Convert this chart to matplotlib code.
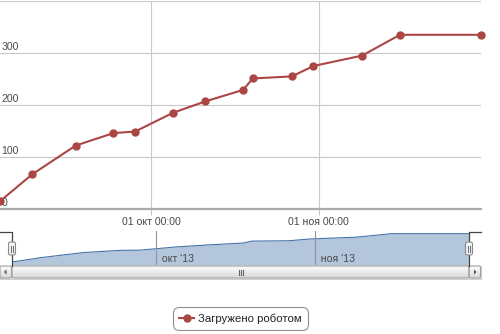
import matplotlib
matplotlib.use("Agg")
import matplotlib.pyplot as plt
import matplotlib.dates as mdates
from matplotlib.patches import FancyBboxPatch, Rectangle, Polygon
import numpy as np
import pandas as pd

# data
dates = pd.to_datetime([
    "2013-09-03 00:00", "2013-09-09 00:00", "2013-09-17 00:00", "2013-09-24 00:00",
    "2013-09-28 00:00", "2013-10-05 00:00", "2013-10-11 00:00", "2013-10-18 00:00",
    "2013-10-19 18:00", "2013-10-27 00:00", "2013-10-31 00:00", "2013-11-09 00:00",
    "2013-11-16 00:00", "2013-12-01 00:00",
])
loaded = [15, 67, 122, 146, 149, 185, 207, 229, 251, 255, 275, 295, 335, 335]
series_name = "Загружено роботом"
y_ticks = [0, 100, 200, 300, 400]
x_ticks = pd.to_datetime(["2013-10-01", "2013-11-01"])
x_tick_labels = ["01 окт 00:00", "01 ноя 00:00"]
nav_tick_labels = ["окт '13", "ноя '13"]

plt.rcParams["font.family"] = ["Liberation Sans", "DejaVu Sans"]

W, H = 500, 334
fig = plt.figure(figsize=(W / 100, H / 100), dpi=100)


def box(x0, y0, x1, y1):
    # pixel box (top-left origin) -> figure fraction rect
    return [x0 / W, 1 - y1 / H, (x1 - x0) / W, (y1 - y0) / H]


red = "#AA4643"
blue = "#4572A7"
grid = "#C8C8C8"
label_col = "#4A4A4A"

# ---- main chart ----
ax = fig.add_axes(box(0, 1, 481, 209))
x = mdates.date2num(dates)
ax.plot(x, loaded, color=red, lw=1.5, marker="o", ms=5, zorder=3, clip_on=False)
ax.set_xlim(x[0], x[-1])
ax.set_ylim(0, 400)
for v in y_ticks[1:]:
    ax.axhline(v, color=grid, lw=0.8, zorder=1)
for t in mdates.date2num(x_ticks):
    ax.axvline(t, color=grid, lw=0.8, zorder=1)
for s in ["left", "right", "top"]:
    ax.spines[s].set_visible(False)
ax.spines["bottom"].set_color("#ABABAB")
ax.spines["bottom"].set_linewidth(1.6)
ax.set_yticks([])
ax.set_xticks(mdates.date2num(x_ticks))
ax.set_xticklabels(x_tick_labels, fontsize=7.6, color=label_col)
ax.tick_params(axis="x", length=4, width=0.8, color=grid, pad=1.5)
ytr = ax.get_yaxis_transform()
for v in y_ticks[:-1]:
    ax.text(0.003, v + 12, str(v), transform=ytr, fontsize=7.6, color=label_col,
            ha="left", va="center", zorder=2)

# ---- navigator ----
nav = fig.add_axes(box(12, 231, 469, 265))
nav.fill_between(x, loaded, -19, color=blue, alpha=0.4, lw=0)
nav.plot(x, loaded, color=blue, lw=0.8)
nav.set_xlim(x[0], x[-1])
nav.set_ylim(-19, 365)
nav.axis("off")
ntr = nav.get_xaxis_transform()
for t, lab in zip(mdates.date2num(x_ticks), nav_tick_labels):
    nav.axvline(t, color="#8C96A4", lw=0.8)
    nav.text(t, 0.17, "  " + lab, transform=ntr, fontsize=7.6, color=label_col,
             ha="left", va="center")

# ---- overlay for navigator outline, handles, scrollbar (pixel coords) ----
ov = fig.add_axes([0, 0, 1, 1], zorder=5)
ov.axis("off")
ov.patch.set_alpha(0)

top_c = np.array([0.99, 0.99, 0.99])
bot_c = np.array([0.85, 0.85, 0.85])
t_ = np.linspace(0, 1, 24).reshape(-1, 1, 1)
grad = top_c * (1 - t_) + bot_c * t_

# scrollbar track
ov.add_patch(Rectangle((0, 265.5), 481, 13, facecolor="#F4F4F4", edgecolor="#CCCCCC", lw=0.8))
# scrollbar thumb with gradient
ov.imshow(grad, extent=(12, 469, 278, 266), aspect="auto", zorder=2)
ov.add_patch(FancyBboxPatch((12, 266), 457, 12, boxstyle="round,pad=0,rounding_size=2",
                            facecolor="none", edgecolor="#A0A0A0", lw=0.8, zorder=3))
for dx in (-2, 0, 2):
    ov.plot([240.5 + dx, 240.5 + dx], [269.5, 274.5], color="#666666", lw=0.8, zorder=4)
# scrollbar buttons
for bx, pts in ((0, [(6.5, 269.5), (6.5, 274.5), (4, 272)]),
                (469, [(474, 269.5), (474, 274.5), (476.5, 272)])):
    ov.imshow(grad, extent=(bx, bx + 11.5, 278, 266), aspect="auto", zorder=2)
    ov.add_patch(FancyBboxPatch((bx, 266), 11.5, 12, boxstyle="round,pad=0,rounding_size=1.5",
                                facecolor="none", edgecolor="#A0A0A0", lw=0.8, zorder=3))
    ov.add_patch(Polygon(pts, closed=True, facecolor="#555555", edgecolor="none", zorder=4))

# navigator outline
ov.plot([0, 12, 12], [231.5, 231.5, 266], color="#444444", lw=0.9, zorder=5)
ov.plot([469, 469, 481], [266, 231.5, 231.5], color="#444444", lw=0.9, zorder=5)

# handles
for hx in (12, 469):
    ov.add_patch(FancyBboxPatch((hx - 3.5, 242), 7, 13, boxstyle="round,pad=0,rounding_size=2",
                                facecolor="#F4F4F4", edgecolor="#8A8A8A", lw=0.8, zorder=6))
    for dx in (-1, 1):
        ov.plot([hx + dx, hx + dx], [245.5, 251.5], color="#777777", lw=0.8, zorder=7)

ov.set_xlim(0, W)
ov.set_ylim(H, 0)

# ---- legend ----
handle, = ov.plot([], [], color=red, lw=1.5, marker="o", ms=5)
leg = fig.legend([handle], [series_name], loc="center", bbox_to_anchor=(240.5 / W, 1 - 318.7 / H),
                 fontsize=8.2, handlelength=1.3, handletextpad=0.35, borderpad=0.55,
                 frameon=True, fancybox=True, framealpha=1, edgecolor="#909090")
leg.get_frame().set_linewidth(0.8)
leg.get_frame().set_boxstyle("round,pad=0,rounding_size=0.5")
for t in leg.get_texts():
    t.set_color("#222222")

fig.savefig("out.png", dpi=100)
plt.close(fig)
